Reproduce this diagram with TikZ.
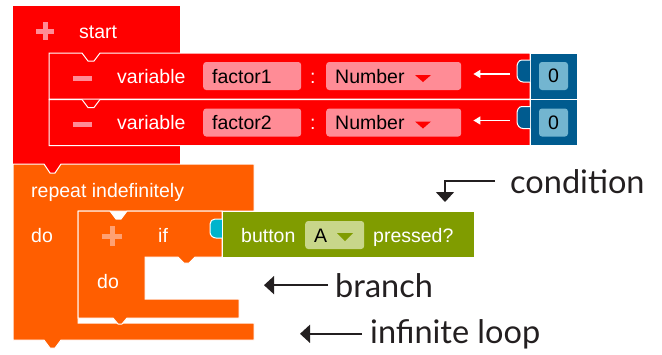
\documentclass[tikz,border=0pt]{standalone}
\usepackage{fontspec}
\setmainfont{Liberation Sans}
\newfontfamily\notefont{Lato}
\usetikzlibrary{arrows.meta,positioning}
\definecolor{startred}{HTML}{FF0000}
\definecolor{fieldpink}{HTML}{FF8C96}
\definecolor{valueblue}{HTML}{005B8F}
\definecolor{zeroblue}{HTML}{73B5D0}
\definecolor{looporange}{HTML}{FF5E00}
\definecolor{plusorange}{HTML}{FFA072}
\definecolor{condgreen}{HTML}{809C00}
\definecolor{fieldgreen}{HTML}{C8D68A}
\definecolor{tabteal}{HTML}{00B4CC}
\definecolor{notegray}{HTML}{231F20}
\newcommand{\blockfont}{\fontsize{19.5}{22}\selectfont}

\begin{document}
\begin{tikzpicture}[x=1pt,y=-1pt,
		blockedge/.style={draw=white, line width=1pt},
		blocktext/.style={font=\blockfont, text=white, inner sep=0pt, anchor=base west},
		field/.style={fill=fieldpink, rounded corners=3pt, minimum height=28pt, text height=14pt, text depth=0pt, inner xsep=9pt, inner ysep=0pt, font=\blockfont, text=black, anchor=west, align=left},
		zerobox/.style={fill=zeroblue, rounded corners=3pt, minimum width=29pt, minimum height=28pt, inner sep=0pt, font=\blockfont, text=black},
		sign/.style={line width=5pt},
		inarrow/.style={-{Triangle[length=7pt,width=8pt]}, draw=white, line width=1.5pt},
		note/.style={font=\notefont\fontsize{32.5}{38}\selectfont, text=notegray, inner sep=0pt, anchor=base west},
		notearrow/.style={-{Triangle[length=10pt,width=18pt]}, draw=notegray, line width=1.5pt}]
	\useasboundingbox (0,0) rectangle (662,354);
	% variable names
	\def\varnames {factor1,factor2}
	% start block
	\fill[startred] (13,6) rectangle (180,173);
	\draw[sign, fieldpink] (36,31) -- (54,31) (45,22) -- (45,40);
	\node[blocktext] (start_label) at (79,38) {start};
	% repeat block
	\filldraw[looporange, blockedge] (13,164) -- (44,164) -- ++(6,9) -- ++(5,0) -- ++(6,-9) -- (254,164) -- (254,211) -- (78,211) -- (78,323) -- (254,323) -- (254,340) -- (61,340) -- ++(-6,8) -- ++(-5,0) -- ++(-6,-8) -- (13,340) -- cycle;
	\node[blocktext] (repeat_label) at (31,197) {repeat indefinitely};
	\node[blocktext] (repeat_do) at (31,242) {do};
	% variable rows
	\foreach \label [count=\index] in \varnames
	{
		\pgfmathsetmacro{\rowtop}{6.5+46.5*\index}
		\filldraw[startred, blockedge] (49,\rowtop) -- (82,\rowtop) -- ++(6,8) -- ++(6,0) -- ++(6,-8) -- (530,\rowtop) -- (530,\rowtop+46) -- (49,\rowtop+46) -- cycle;
		\draw[sign, fieldpink] (73,\rowtop+25) -- (92,\rowtop+25);
		\node[blocktext] (variable_\index) at (117,\rowtop+30) {variable};
		\node[field, text width=80pt] (name_\index) at (203,\rowtop+23) {\label};
		\node[blocktext] (colon_\index) at (310,\rowtop+30) {:};
		\node[field, text width=117pt] (type_\index) at (326,\rowtop+23) {Number};
		\fill[startred] (415,\rowtop+22) -- (431,\rowtop+22) -- (423,\rowtop+29) -- cycle;
		% value block
		\filldraw[valueblue, blockedge] (530,\rowtop) rectangle (577,\rowtop+46);
		\filldraw[valueblue, blockedge] (530,\rowtop+7) -- (522,\rowtop+7) to[out=180,in=90] (517,\rowtop+14) -- (517,\rowtop+22) to[out=-90,in=180] (523,\rowtop+29) -- (530,\rowtop+29);
		\node[zerobox] (zero_\index) at (553.5,\rowtop+23) {0};
		\draw[inarrow, shorten <=29pt, shorten >=12pt] ([yshift=2pt]zero_\index.west) -- ([yshift=2pt]type_\index.east);
	}
	% if block
	\filldraw[looporange, blockedge] (78,211) -- (110,211) -- ++(6,8) -- ++(5,0) -- ++(6,-8) -- (222,211) -- (222,257) -- (195,257) -- ++(-6,6) -- ++(-5,0) -- ++(-6,-6) -- (145,257) -- (145,299) -- (239,299) -- (239,318) -- (127,318) -- ++(-5,6) -- ++(-4,0) -- ++(-5,-6) -- (78,318) -- cycle;
	\draw[sign, plusorange] (102,236) -- (122,236) (112,226) -- (112,246);
	\node[blocktext] (if_label) at (158,242) {if};
	\node[blocktext] (if_do) at (97,288) {do};
	% condition block
	\filldraw[tabteal, blockedge] (222,219) -- (215,219) to[out=180,in=90] (210,224) -- (210,232) to[out=-90,in=180] (216,238) -- (222,238);
	\filldraw[condgreen, blockedge] (222,211) rectangle (474,257);
	\node[blocktext] (button_label) at (241,242) {button};
	\node[field, fill=fieldgreen, text width=41pt] (button_field) at (305,235) {A};
	\fill[condgreen] (337,233) -- (353,233) -- (345,241) -- cycle;
	\node[blocktext] (pressed_label) at (373,242) {pressed?};
	% notes
	\node[note] (condition_note) at (510,193) {condition};
	\node[note] (branch_note) at (335,297) {branch};
	\node[note] (loop_note) at (370,343) {infinite loop};
	\coordinate (condition_tip) at (445,202);
	\coordinate[left=71pt of branch_note.west] (branch_tip);
	\coordinate[left=70pt of loop_note.west] (loop_tip);
	\draw[notearrow] ([xshift=-15pt]condition_note.west) -| (condition_tip);
	\draw[notearrow] ([xshift=-7pt]branch_note.west) -- (branch_tip);
	\draw[notearrow] ([xshift=-8pt]loop_note.west) -- (loop_tip);
\end{tikzpicture}
\end{document}
